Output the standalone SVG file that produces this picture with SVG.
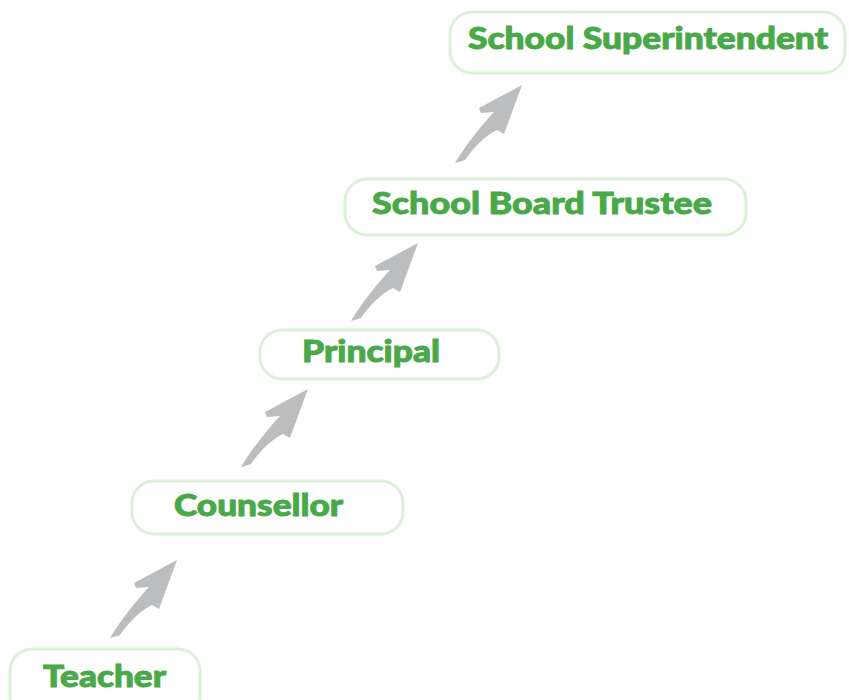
<svg xmlns="http://www.w3.org/2000/svg" width="849" height="700" viewBox="0 0 849 700">
<defs>
<style>
.box{fill:#ffffff;stroke:#dcefd9;stroke-width:3}
.lbl{font-family:"Lato Black","Lato","Open Sans","Liberation Sans",sans-serif;font-weight:900;fill:#49a948;stroke:#49a948;stroke-width:0.9px;text-anchor:middle;font-size:30px}
.arr{fill:#bcbdbf}
</style>
<path id="arrow" d="M0,0 L-43,23 L-41,28 L-28,27 C-40,40 -55,58 -67,78 C-63,77 -60,76 -57,75 C-48,62 -36,50 -25,45 L-18,49 Z"/>
</defs>
<rect width="849" height="700" fill="#ffffff"/>
<g id="connectors" class="arr">
<use href="#arrow" transform="translate(177,560)"/>
<use href="#arrow" transform="translate(308,389)"/>
<use href="#arrow" transform="translate(418,243)"/>
<use href="#arrow" transform="translate(522,85)"/>
</g>
<g id="superintendent">
<rect class="box" x="450" y="12" width="395" height="61" rx="22"/>
<text class="lbl" x="648" y="49" textLength="360" lengthAdjust="spacingAndGlyphs">School Superintendent</text>
</g>
<g id="trustee">
<rect class="box" x="345" y="179" width="401" height="56" rx="22"/>
<text class="lbl" x="542" y="214" textLength="340" lengthAdjust="spacingAndGlyphs">School Board Trustee</text>
</g>
<g id="principal">
<rect class="box" x="260" y="330" width="239" height="49" rx="22"/>
<text class="lbl" x="371" y="362" textLength="138" lengthAdjust="spacingAndGlyphs">Principal</text>
</g>
<g id="counsellor">
<rect class="box" x="132" y="481" width="271" height="53" rx="22"/>
<text class="lbl" x="258.5" y="516" textLength="169" lengthAdjust="spacingAndGlyphs">Counsellor</text>
</g>
<g id="teacher">
<rect class="box" x="10" y="649" width="190" height="70" rx="22"/>
<text class="lbl" x="104.5" y="687" textLength="123" lengthAdjust="spacingAndGlyphs">Teacher</text>
</g>
</svg>
